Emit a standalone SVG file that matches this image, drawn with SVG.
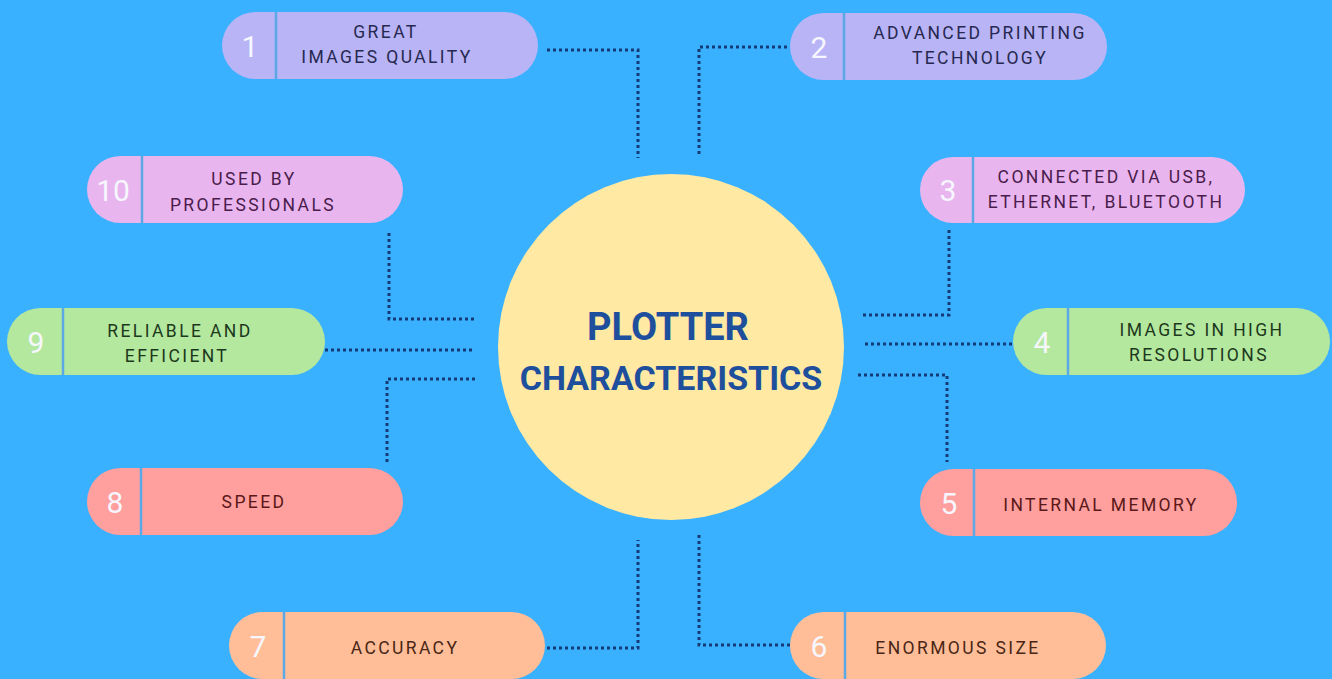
<svg xmlns="http://www.w3.org/2000/svg" width="1332" height="679" viewBox="0 0 1332 679">
<style>
.pill{stroke:none}
.div{stroke:#5AA9E6;stroke-width:2.5}
.num{font-family:Roboto,"Liberation Sans",sans-serif;font-size:30px;font-weight:400;fill:#F6F6FF;text-anchor:middle}
.lbl{font-family:Roboto,"Liberation Sans",sans-serif;font-size:17.5px;font-weight:400;letter-spacing:2.4px;text-anchor:middle}
.c1{fill:#B8B4F6}.t1{fill:#27284F}
.c3{fill:#E9B5EE}.t3{fill:#4A1C4C}
.c4{fill:#B4E89E}.t4{fill:#1C381C}
.c5{fill:#FF9F9E}.t5{fill:#5A1818}
.c6{fill:#FFBE98}.t6{fill:#4A2616}
.conn path{fill:none;stroke:#153A78;stroke-width:3;stroke-dasharray:3 3}
.title{font-family:Roboto,"Liberation Sans",sans-serif;font-weight:700;fill:#1E4F9C;text-anchor:middle}
</style>
<rect width="1332" height="679" fill="#3AB1FE"/>
<g class="conn">
<path d="M547,50 H638 V158"/>
<path d="M699,154 V47 H790"/>
<path d="M949,230 V315 H863"/>
<path d="M865,344 H1013"/>
<path d="M858,375 H947 V462"/>
<path d="M699,535 V645 H790"/>
<path d="M547,648 H638 V540"/>
<path d="M475,379 H387 V464"/>
<path d="M325,350 H472"/>
<path d="M389,233 V319 H477"/>
</g>
<g id="center">
<circle cx="671" cy="347" r="173" fill="#FFE9A3"/>
<text class="title" x="668" y="340" font-size="38">PLOTTER</text>
<text class="title" x="671" y="390" font-size="34">CHARACTERISTICS</text>
</g>
<g id="n1">
<rect class="pill c1" x="222" y="12" width="316" height="67" rx="33.5"/>
<line class="div" x1="276" y1="12" x2="276" y2="79"/>
<text class="num" x="250" y="57">1</text>
<text class="lbl t1" x="386" y="38">GREAT</text>
<text class="lbl t1" x="387" y="63">IMAGES QUALITY</text>
</g>
<g id="n2">
<rect class="pill c1" x="790" y="13" width="317" height="67" rx="33.5"/>
<line class="div" x1="844" y1="13" x2="844" y2="80"/>
<text class="num" x="819" y="58">2</text>
<text class="lbl t1" x="980" y="39">ADVANCED PRINTING</text>
<text class="lbl t1" x="980" y="64">TECHNOLOGY</text>
</g>
<g id="n3">
<rect class="pill c3" x="920" y="157" width="325" height="66" rx="33"/>
<line class="div" x1="973" y1="157" x2="973" y2="223"/>
<text class="num" x="948" y="201">3</text>
<text class="lbl t3" x="1106" y="183">CONNECTED VIA USB,</text>
<text class="lbl t3" x="1106" y="208">ETHERNET, BLUETOOTH</text>
</g>
<g id="n4">
<rect class="pill c4" x="1013" y="308" width="317" height="67" rx="33.5"/>
<line class="div" x1="1068" y1="308" x2="1068" y2="375"/>
<text class="num" x="1042" y="353">4</text>
<text class="lbl t4" x="1202" y="336">IMAGES IN HIGH</text>
<text class="lbl t4" x="1199" y="361">RESOLUTIONS</text>
</g>
<g id="n5">
<rect class="pill c5" x="920" y="469" width="317" height="67" rx="33.5"/>
<line class="div" x1="974" y1="469" x2="974" y2="536"/>
<text class="num" x="949" y="514">5</text>
<text class="lbl t5" x="1101" y="511">INTERNAL MEMORY</text>
</g>
<g id="n6">
<rect class="pill c6" x="790" y="612" width="316" height="67" rx="33.5"/>
<line class="div" x1="845" y1="612" x2="845" y2="679"/>
<text class="num" x="819" y="657">6</text>
<text class="lbl t6" x="958" y="654">ENORMOUS SIZE</text>
</g>
<g id="n7">
<rect class="pill c6" x="229" y="612" width="316" height="67" rx="33.5"/>
<line class="div" x1="284" y1="612" x2="284" y2="679"/>
<text class="num" x="258" y="657">7</text>
<text class="lbl t6" x="405" y="654">ACCURACY</text>
</g>
<g id="n8">
<rect class="pill c5" x="87" y="468" width="316" height="67" rx="33.5"/>
<line class="div" x1="141" y1="468" x2="141" y2="535"/>
<text class="num" x="115" y="513">8</text>
<text class="lbl t5" x="254" y="508">SPEED</text>
</g>
<g id="n9">
<rect class="pill c4" x="7" y="308" width="318" height="67" rx="33.5"/>
<line class="div" x1="63" y1="308" x2="63" y2="375"/>
<text class="num" x="36" y="353">9</text>
<text class="lbl t4" x="180" y="337">RELIABLE AND</text>
<text class="lbl t4" x="177" y="362">EFFICIENT</text>
</g>
<g id="n10">
<rect class="pill c3" x="87" y="156" width="316" height="67" rx="33.5"/>
<line class="div" x1="142" y1="156" x2="142" y2="223"/>
<text class="num" x="113" y="201">10</text>
<text class="lbl t3" x="254" y="185">USED BY</text>
<text class="lbl t3" x="253" y="211">PROFESSIONALS</text>
</g>
</svg>
